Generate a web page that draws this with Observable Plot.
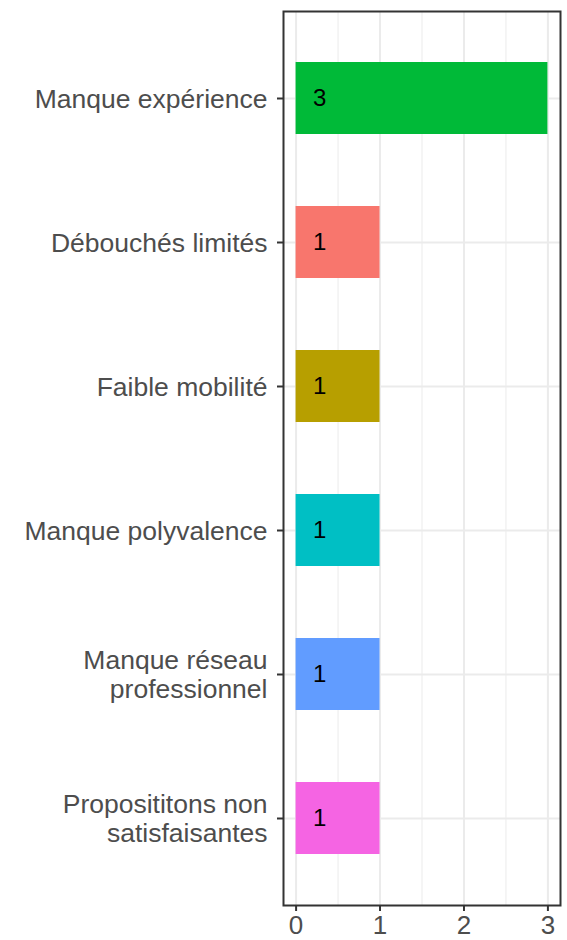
<!DOCTYPE html>
<html>
<head>
<meta charset="utf-8">
<script src="https://cdn.jsdelivr.net/npm/d3@7"></script>
<script src="https://cdn.jsdelivr.net/npm/@observablehq/plot@0.6"></script>
<style>
  html, body { margin: 0; padding: 0; background: #fff; }
  #chart svg { display: block; }
</style>
</head>
<body>
<div id="chart"></div>
<script>
const categories = ["Manque expérience", "Débouchés limités", "Faible mobilité", "Manque polyvalence", "Manque réseau professionnel", "Proposititons non satisfaisantes"];
const counts = [3, 1, 1, 1, 1, 1];
const barColors = ["#00BA38", "#F8766D", "#B79F00", "#00BFC4", "#619CFF", "#F564E3"];
const categoryLabels = ["Manque expérience", "Débouchés limités", "Faible mobilité", "Manque polyvalence", "Manque réseau\nprofessionnel", "Proposititons non\nsatisfaisantes"];
const xTicks = [0, 1, 2, 3];
const xMinorTicks = [0.5, 1.5, 2.5];

const data = categories.map((c, i) => ({cat: c, n: counts[i]}));
const labelOf = new Map(categories.map((c, i) => [c, categoryLabels[i]]));

const chart = Plot.plot({
  width: 567,
  height: 940,
  marginLeft: 283,
  marginRight: 7,
  marginTop: 11,
  marginBottom: 35,
  style: {fontFamily: "'Liberation Sans', Arial, sans-serif", background: "#fff"},
  x: {domain: [-0.15, 3.15], axis: null},
  y: {domain: categories, type: "band", paddingInner: 0.5, paddingOuter: 0.35, axis: null},
  color: {domain: categories, range: barColors},
  marks: [
    Plot.gridX(xMinorTicks, {stroke: "#EBEBEB", strokeOpacity: 1, strokeWidth: 1}),
    Plot.gridX(xTicks, {stroke: "#EBEBEB", strokeOpacity: 1, strokeWidth: 2}),
    Plot.gridY(categories, {stroke: "#EBEBEB", strokeOpacity: 1, strokeWidth: 2}),
    Plot.barX(data, {x1: 0, x2: "n", y: "cat", fill: "cat"}),
    Plot.text(data, {x: 0.28, y: "cat", text: d => String(d.n), fontSize: 24, fill: "black"}),
    Plot.frame({stroke: "#333", strokeWidth: 2}),
    Plot.axisX(xTicks, {label: null, tickSize: 6, tickPadding: 4, fontSize: 26, stroke: "#333", strokeWidth: 2, fill: "#4D4D4D", tickFormat: d => String(d)}),
    Plot.axisY(categories, {label: null, tickSize: 6, tickPadding: 10, fontSize: 26.5, lineHeight: 1.07, stroke: "#333", strokeWidth: 2, fill: "#4D4D4D", tickFormat: d => labelOf.get(d)})
  ]
});
document.getElementById("chart").appendChild(chart);
</script>
</body>
</html>
